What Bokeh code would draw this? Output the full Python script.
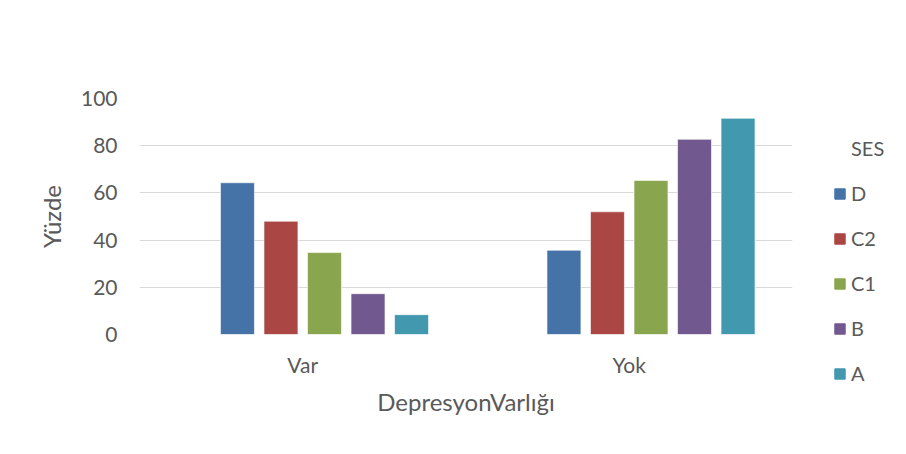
from bokeh.plotting import figure
from bokeh.layouts import row, column
from bokeh.models import ColumnDataSource, FactorRange, Range1d, Legend, LegendItem
from bokeh.transform import dodge
from bokeh.embed import file_html
from bokeh.resources import INLINE

categories = ["Var", "Yok"]
series = ["D", "C2", "C1", "B", "A"]
D = [64.3, 35.7]
C2 = [48.0, 52.0]
C1 = [34.7, 65.3]
B = [17.3, 82.7]
A = [8.4, 91.6]
y_ticks = [0, 20, 40, 60, 80, 100]
legend_title = "SES"
colors = ["#4572A7", "#AA4643", "#89A54E", "#71588F", "#4198AF"]

FONT = "Lato"
TXT = "#595959"

source = ColumnDataSource(data=dict(cat=categories, D=D, C2=C2, C1=C1, B=B, A=A))

p = figure(width=800, height=438, output_backend="svg", toolbar_location=None,
           x_range=FactorRange(factors=categories, range_padding=0),
           y_range=Range1d(0, 100),
           min_border_left=139, min_border_right=8, min_border_top=98, min_border_bottom=104)
p.outline_line_color = None
p.background_fill_color = "white"
p.border_fill_color = "white"

for i, name in enumerate(series):
    p.vbar(x=dodge("cat", -0.2 + i * 0.1333, range=p.x_range), top=name, width=0.104,
           source=source, fill_color=colors[i], line_color="white", line_alpha=0.6, line_width=1)

p.yaxis.ticker = y_ticks
p.ygrid.ticker = y_ticks
p.xgrid.grid_line_color = None
p.ygrid.grid_line_color = "#d9d9d9"
p.ygrid.grid_line_width = 1.2
for ax in (p.xaxis[0], p.yaxis[0]):
    ax.axis_line_color = None
    ax.major_tick_line_color = None
    ax.minor_tick_line_color = None
    ax.major_tick_out = 0
    ax.major_tick_in = 0
    ax.major_label_text_font = FONT
    ax.major_label_text_color = TXT
    ax.major_label_text_font_size = "21px"
    ax.axis_label_text_font = FONT
    ax.axis_label_text_color = TXT
    ax.axis_label_text_font_size = "24px"
    ax.axis_label_text_font_style = "normal"

p.xaxis.axis_label = "DepresyonVarlığı"
p.yaxis.axis_label = "Yüzde"
p.xaxis.major_label_standoff = 17
p.xaxis.axis_label_standoff = 7
p.yaxis.major_label_standoff = 22
p.yaxis.axis_label_standoff = 12

# legend panel: a small figure holding hidden copies of the series (only their swatches show)
q = figure(width=90, height=438, output_backend="svg", toolbar_location=None,
           x_range=FactorRange(factors=categories), y_range=Range1d(0, 100),
           x_axis_location=None, y_axis_location=None,
           min_border_left=0, min_border_right=0, min_border_top=0, min_border_bottom=0)
q.outline_line_color = None
q.grid.grid_line_color = None
q.background_fill_color = "white"
q.border_fill_color = "white"

title_r = q.vbar(x="cat", top="D", width=0.1, source=source, fill_alpha=0, line_alpha=0, visible=False)
items = [LegendItem(label=legend_title, renderers=[title_r])]
for i, s in enumerate(series):
    r = q.vbar(x="cat", top=s, width=0.1, source=source, fill_color=colors[i],
               line_color=colors[i], visible=False)
    items.append(LegendItem(label=s, renderers=[r]))

legend = Legend(items=items, click_policy="none",
                location=(33, 53), padding=0, margin=0, spacing=21,
                glyph_width=13, glyph_height=13, label_height=24, label_standoff=5,
                label_text_font=FONT, label_text_color=TXT, label_text_font_size="20px",
                border_line_color=None, background_fill_alpha=0)
q.add_layout(legend, "center")

layout = row(p, column(q), spacing=0)
open("out.html", "w").write(file_html(layout, INLINE))
